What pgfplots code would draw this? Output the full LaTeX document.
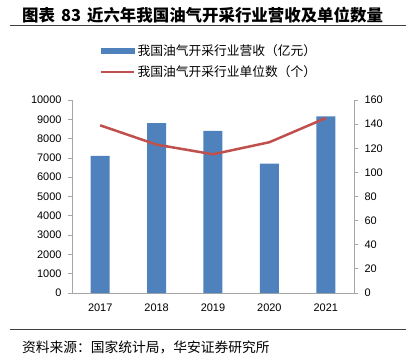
\documentclass[border=0pt]{standalone}
\usepackage{fontspec}
\setmainfont{Liberation Sans}
\newfontfamily\cjk{Noto Sans CJK SC}
\usepackage{pgfplots}
\pgfplotsset{compat=1.18}
\definecolor{barblue}{HTML}{4F81BD}
\definecolor{linered}{HTML}{C0504D}
\definecolor{axgray}{HTML}{A6A6A6}
\begin{document}
\begin{tikzpicture}
\useasboundingbox (0,0) rectangle (414bp,-362bp);
\node[anchor=west, inner sep=0] at (22bp,-15bp) {\cjk\bfseries\fontsize{16.5}{19}\selectfont 图表\hspace{6bp}83\hspace{6bp}近六年我国油气开采行业营收及单位数量};
\draw[black!75, line width=0.8bp] (10bp,-25bp) -- (406bp,-25bp);
\draw[black!75, line width=0.8bp] (10bp,-329bp) -- (406bp,-329bp);
\node[anchor=west, inner sep=0] at (22bp,-347bp) {\cjk\fontsize{13.8}{16}\selectfont 资料来源：国家统计局，华安证券研究所};
\begin{axis}[
  at={(72bp,-293bp)}, anchor=south west,
  scale only axis, width=282bp, height=193bp,
  xmin=-0.5, xmax=4.5, ymin=0, ymax=10000,
  axis y line*=left, axis x line*=bottom,
  axis line style={axgray, line width=0.8bp},
  xtick={0,1,2,3,4}, xticklabels={2017,2018,2019,2020,2021},
  x tick style={draw=none},
  ytick distance=1000,
  y tick style={axgray, line width=0.8bp},
  major tick length=4bp, tick align=outside,
  scaled ticks=false,
  /pgf/number format/1000 sep={},
  /pgf/number format/assume math mode=true,
  tick label style={font=\fontsize{11}{13}\selectfont, text=black},
  xticklabel style={yshift=-3bp},
  yticklabel style={xshift=-3bp},
]
\addplot[ybar, bar width=19bp, fill=barblue, draw=none] coordinates {(0,7100)(1,8800)(2,8400)(3,6700)(4,9150)};
\end{axis}
\begin{axis}[
  at={(72bp,-293bp)}, anchor=south west,
  scale only axis, width=282bp, height=193bp,
  xmin=-0.5, xmax=4.5, ymin=0, ymax=160,
  axis y line*=right, axis x line=none,
  axis line style={axgray, line width=0.8bp},
  ytick distance=20,
  y tick style={axgray, line width=0.8bp},
  major tick length=4bp, tick align=outside,
  /pgf/number format/assume math mode=true,
  tick label style={font=\fontsize{11}{13}\selectfont, text=black},
  yticklabel style={xshift=3bp},
  legend style={at={(0.099,1.30)}, anchor=north west, draw=none, fill=none,
    font=\cjk\fontsize{12.8}{14}\selectfont, row sep=5bp, inner sep=0pt},
  legend cell align=left,
]
\addlegendimage{legend image code/.code={\fill[barblue] (0bp,-2.5bp) rectangle (33bp,2.5bp);}}
\addlegendentry{我国油气开采行业营收（亿元）}
\addplot[linered, line width=2.5bp, legend image code/.code={\draw[linered, line width=2.5bp] (0bp,0bp) -- (33bp,0bp);}] coordinates {(0,139)(1,123)(2,115)(3,125)(4,145)};
\addlegendentry{我国油气开采行业单位数（个）}
\end{axis}
\end{tikzpicture}
\end{document}
